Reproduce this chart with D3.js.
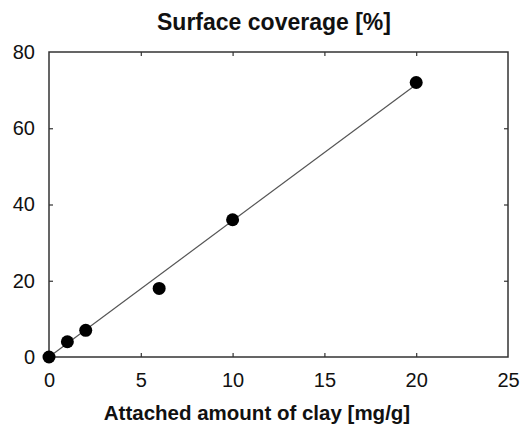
<!DOCTYPE html>
<html>
<head>
<meta charset="utf-8">
<script src="https://cdn.jsdelivr.net/npm/d3@7"></script>
<style>
  body { margin: 0; background: #fff; }
  text { font-family: "Liberation Sans", Arial, sans-serif; fill: #111; }
</style>
</head>
<body>
<div id="chart"></div>
<script>
// data
var clayAmount = [0, 1, 2, 6, 10, 20];      // mg/g
var coverage   = [0, 4, 7, 18, 36, 72];     // %
var fitX = [0, 20];
var fitY = [0, 71.5];
var xTicks = [0, 5, 10, 15, 20, 25];
var yTicks = [0, 20, 40, 60, 80];

var W = 526, H = 426;
var margin = {top: 52, right: 18, bottom: 69, left: 49};
var width = W - margin.left - margin.right,
    height = H - margin.top - margin.bottom;

var svg = d3.select("#chart").append("svg")
    .attr("width", W)
    .attr("height", H);

var g = svg.append("g")
    .attr("transform", "translate(" + margin.left + "," + margin.top + ")");

var x = d3.scaleLinear().domain([0, 25]).range([0, width]);
var y = d3.scaleLinear().domain([0, 80]).range([height, 0]);

// frame
g.append("rect")
    .attr("width", width)
    .attr("height", height)
    .attr("fill", "none")
    .attr("stroke", "#333")
    .attr("stroke-width", 1.5);

// inward ticks on all four sides
function tickAxis(axis, tr) {
  var a = g.append("g").attr("transform", tr).call(axis);
  a.select(".domain").remove();
  a.selectAll("line").attr("stroke", "#333").attr("stroke-width", 1.2);
  return a;
}

var xb = tickAxis(d3.axisBottom(x).tickValues(xTicks).tickSizeInner(-4).tickSizeOuter(0).tickPadding(16),
    "translate(0," + height + ")");
xb.selectAll("text").attr("font-size", 20).attr("fill", "#111");
xb.selectAll(".tick").filter(d => d === 0 || d === 25).select("line").remove();

var xt = tickAxis(d3.axisTop(x).tickValues(xTicks.slice(1, -1)).tickSize(-4).tickFormat(""), "translate(0,0)");

var yl = tickAxis(d3.axisLeft(y).tickValues(yTicks).tickSizeInner(-4).tickSizeOuter(0).tickPadding(14), "translate(0,0)");
yl.selectAll("text").attr("font-size", 20).attr("fill", "#111");
yl.selectAll(".tick").filter(d => d === 0 || d === 80).select("line").remove();

var yr = tickAxis(d3.axisRight(y).tickValues(yTicks.slice(1, -1)).tickSize(-4).tickFormat(""),
    "translate(" + width + ",0)");

// fitted line
g.append("line")
    .attr("x1", x(fitX[0])).attr("y1", y(fitY[0]))
    .attr("x2", x(fitX[1])).attr("y2", y(fitY[1]))
    .attr("stroke", "#555")
    .attr("stroke-width", 1.2);

// data points
g.selectAll("circle")
    .data(clayAmount)
    .enter().append("circle")
    .attr("cx", d => x(d))
    .attr("cy", (d, i) => y(coverage[i]))
    .attr("r", 6.5)
    .attr("fill", "#000");

// titles
svg.append("text")
    .attr("x", 274).attr("y", 30)
    .attr("text-anchor", "middle")
    .attr("font-size", 23)
    .attr("font-weight", "bold")
    .text("Surface coverage [%]");

svg.append("text")
    .attr("x", 257).attr("y", 420)
    .attr("text-anchor", "middle")
    .attr("font-size", 20.5)
    .attr("font-weight", "bold")
    .text("Attached amount of clay [mg/g]");
</script>
</body>
</html>
